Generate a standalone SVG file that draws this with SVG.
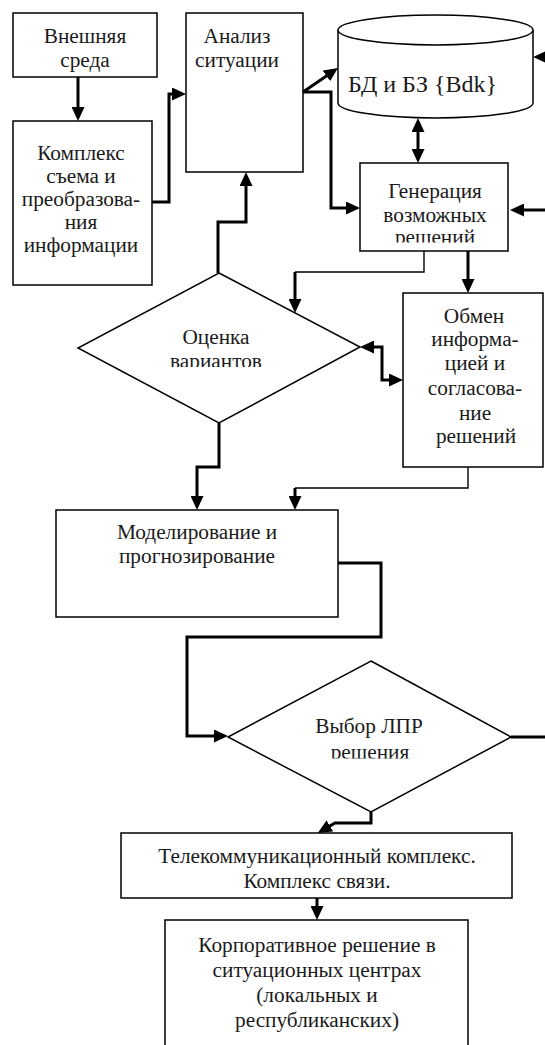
<svg xmlns="http://www.w3.org/2000/svg" width="545" height="1045" viewBox="0 0 545 1045">
<style>
.b{fill:#fff;stroke:#000;stroke-width:1.5}
text{font-size:21.3px;fill:#1a1a1a;text-anchor:middle}
.big{font-size:24px}
.k{fill:none;stroke:#000;stroke-width:3;stroke-linejoin:miter}
.n{fill:none;stroke:#000;stroke-width:1.4}
</style>
<defs>
<marker id="ah" viewBox="0 0 14 13" markerWidth="14" markerHeight="13" refX="8" refY="6.5" orient="auto-start-reverse" markerUnits="userSpaceOnUse"><path d="M0,0 L14,6.5 L0,13 z" fill="#000"/></marker>
<clipPath id="cGen"><rect x="360" y="163" width="148" height="79.5"/></clipPath>
<clipPath id="cOc"><rect x="78" y="273" width="282" height="94"/></clipPath>
<clipPath id="cVyb"><rect x="228" y="661" width="283" height="97.5"/></clipPath>
</defs>
<g font-family="Liberation Serif, Times New Roman, serif">
<g id="vneshnyaya-sreda">
<rect class="b" x="13" y="13" width="144" height="64"/>
<text x="85" y="43">Внешняя</text>
<text x="85" y="67">среда</text>
</g>
<g id="kompleks">
<rect class="b" x="13" y="121" width="139" height="164"/>
<text x="81" y="160">Комплекс</text>
<text x="81" y="183">съема и</text>
<text x="81" y="206">преобразова-</text>
<text x="81" y="229">ния</text>
<text x="81" y="252">информации</text>
</g>
<g id="analiz">
<rect class="b" x="186" y="13" width="117" height="159"/>
<text x="237" y="43">Анализ</text>
<text x="237" y="67">ситуации</text>
</g>
<g id="bd">
<path class="b" d="M338,30 A97.5,15 0 0,1 533,30 V103 A97.5,15 0 0,1 338,103 Z"/>
<path class="b" fill="none" d="M338,30 A97.5,15 0 0,0 533,30"/>
<text class="big" x="422.5" y="92">БД и БЗ {Bdk}</text>
</g>
<g id="generaciya">
<rect class="b" x="360" y="163" width="148" height="88"/>
<g clip-path="url(#cGen)">
<text x="435" y="198">Генерация</text>
<text x="435" y="222">возможных</text>
<text x="435" y="244">решений</text>
</g>
</g>
<g id="ocenka">
<polygon class="b" points="219,273 360,347 219,423 78,348"/>
<g clip-path="url(#cOc)">
<text x="216" y="344">Оценка</text>
<text x="216" y="368">вариантов</text>
</g>
</g>
<g id="obmen">
<rect class="b" x="403" y="293" width="140" height="174"/>
<text x="474" y="323">Обмен</text>
<text x="475" y="346">информа-</text>
<text x="475" y="370">цией и</text>
<text x="475" y="395">согласова-</text>
<text x="475" y="420">ние</text>
<text x="476" y="443">решений</text>
</g>
<g id="modelirovanie">
<rect class="b" x="56" y="510" width="282" height="107"/>
<text x="197" y="539">Моделирование и</text>
<text x="197" y="563">прогнозирование</text>
</g>
<g id="vybor">
<polygon class="b" points="371,661 511,737 371,812 228,737"/>
<g clip-path="url(#cVyb)">
<text x="369" y="733">Выбор ЛПР</text>
<text x="370" y="759">решения</text>
</g>
</g>
<g id="telekom">
<rect class="b" x="121" y="833" width="391" height="65"/>
<text x="317" y="863">Телекоммуникационный комплекс.</text>
<text x="317" y="888">Комплекс связи.</text>
</g>
<g id="korporativnoe">
<rect class="b" x="165" y="920" width="303" height="135"/>
<text x="317" y="952">Корпоративное решение в</text>
<text x="317" y="977">ситуационных центрах</text>
<text x="317" y="1002">(локальных и</text>
<text x="317" y="1027">республиканских)</text>
</g>
</g>
<g id="connectors">
<path class="k" d="M78,77 V115" marker-end="url(#ah)"/>
<path class="k" d="M152,202 H169 V94 H180" marker-end="url(#ah)"/>
<path class="k" d="M218,273 V222 H246 V178" marker-end="url(#ah)"/>
<path class="k" d="M303,92 L333,71.4" marker-end="url(#ah)"/>
<path class="k" d="M303,92 H331 V208 H354" marker-end="url(#ah)"/>
<path class="k" d="M545,57 H539" marker-end="url(#ah)"/>
<path class="k" d="M545,210 H516" marker-end="url(#ah)"/>
<path class="k" d="M418,124 V157" marker-start="url(#ah)" marker-end="url(#ah)"/>
<path class="k" d="M468,251 V287" marker-end="url(#ah)"/>
<path class="n" d="M424,251 V272 H295"/>
<path class="k" d="M295,272 V307" marker-end="url(#ah)"/>
<path class="k" d="M366,347 H382 V380 H397" marker-start="url(#ah)" marker-end="url(#ah)"/>
<path class="k" d="M219,423 V467 H197 V504" marker-end="url(#ah)"/>
<path class="n" d="M468,467 V488 H295"/>
<path class="k" d="M295,488 V504" marker-end="url(#ah)"/>
<path class="k" d="M338,563 H381 V637 H187 V736 H222" marker-end="url(#ah)"/>
<path class="k" d="M511,737 H545"/>
<path class="k" d="M371,812 V823 H335 L323,830" marker-end="url(#ah)"/>
<path class="k" d="M317,898 V914" marker-end="url(#ah)"/>
</g>
</svg>
